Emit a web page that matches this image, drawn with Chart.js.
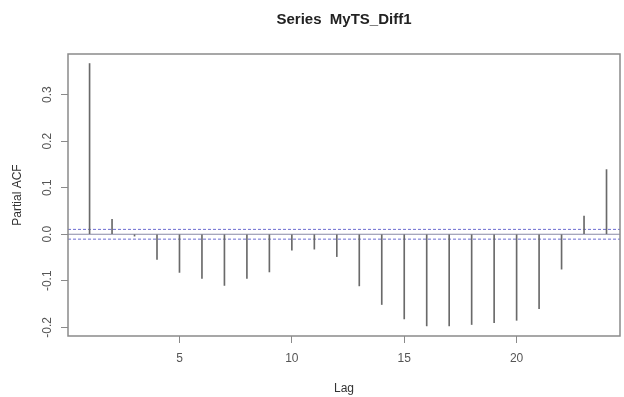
<!DOCTYPE html>
<html>
<head>
<meta charset="utf-8">
<script src="https://cdn.jsdelivr.net/npm/chart.js@4/dist/chart.umd.min.js"></script>
<style>
  html, body { margin: 0; padding: 0; background: #fff; }
  #c { display: block; }
</style>
</head>
<body>
<canvas id="c" width="624" height="397"></canvas>
<script>
// ---- data ----
const lags = [1, 2, 3, 4, 5, 6, 7, 8, 9, 10, 11, 12, 13, 14, 15, 16, 17, 18, 19, 20, 21, 22, 23, 24];
const pacfValues = [0.367, 0.032, -0.004, -0.054, -0.082, -0.095, -0.110, -0.095, -0.081, -0.034, -0.032, -0.048,
                    -0.111, -0.151, -0.182, -0.197, -0.197, -0.194, -0.190, -0.185, -0.160, -0.075, 0.039, 0.139];
const ciBound = 0.0105;
const xTickValues = [5, 10, 15, 20];
const yTickValues = [-0.2, -0.1, 0.0, 0.1, 0.2, 0.3];
const titleText = 'Series  MyTS_Diff1';
const xTitle = 'Lag';
const yTitle = 'Partial ACF';

// axis ranges
const xMin = 0.04, xMax = 24.6;
const yMin = -0.2187, yMax = 0.3875;

const spikeData = lags.map((l, i) => ({ x: l, y: pacfValues[i] }));
const ciUpper = [{ x: xMin, y: ciBound }, { x: xMax, y: ciBound }];
const ciLower = [{ x: xMin, y: -ciBound }, { x: xMax, y: -ciBound }];
const zeroLine = [{ x: xMin, y: 0 }, { x: xMax, y: 0 }];

const boxPlugin = {
  id: 'plotBox',
  afterDraw(chart) {
    const { ctx, chartArea: a } = chart;
    ctx.save();
    ctx.strokeStyle = '#8a8a8a';
    ctx.lineWidth = 1.5;
    ctx.strokeRect(a.left, a.top, a.right - a.left, a.bottom - a.top);
    ctx.restore();
  }
};

const fontFamily = '"Liberation Sans", Arial, sans-serif';

new Chart(document.getElementById('c'), {
  type: 'bar',
  data: {
    datasets: [
      { type: 'line', data: zeroLine, borderColor: '#8a8aa6', borderWidth: 1, pointRadius: 0, order: 3 },
      { type: 'line', data: ciUpper, borderColor: '#6b6bd0', borderWidth: 1, borderDash: [3, 2], pointRadius: 0, order: 2 },
      { type: 'line', data: ciLower, borderColor: '#6b6bd0', borderWidth: 1, borderDash: [3, 2], pointRadius: 0, order: 2 },
      { type: 'bar', data: spikeData, backgroundColor: '#6a6a6a', borderWidth: 0, barThickness: 1, order: 1 }
    ]
  },
  options: {
    responsive: false,
    animation: false,
    devicePixelRatio: 1,
    layout: { padding: { left: 0, right: 4, top: 0, bottom: 0 } },
    plugins: {
      legend: { display: false },
      tooltip: { enabled: false },
      title: {
        display: true,
        text: titleText,
        fullSize: false,
        color: '#222',
        font: { family: fontFamily, size: 15, weight: 'bold' },
        padding: { top: 11, bottom: 25 }
      }
    },
    scales: {
      x: {
        type: 'linear',
        min: xMin, max: xMax,
        offset: false,
        afterFit(scale) { scale.height = 61; },
        afterBuildTicks(scale) { scale.ticks = xTickValues.map(v => ({ value: v })); },
        grid: { display: true, drawOnChartArea: false, drawTicks: true, tickLength: 7, tickColor: '#8a8a8a', offset: false },
        border: { display: false },
        ticks: { color: '#555', font: { family: fontFamily, size: 12 }, padding: 8, maxRotation: 0, minRotation: 0,
                 callback: v => String(v) },
        title: { display: true, text: xTitle, color: '#333', font: { family: fontFamily, size: 12 }, padding: { top: 0, bottom: 1 } }
      },
      y: {
        type: 'linear',
        min: yMin, max: yMax,
        afterFit(scale) { scale.width = 68; },
        afterBuildTicks(scale) { scale.ticks = yTickValues.map(v => ({ value: v })); },
        grid: { display: true, drawOnChartArea: false, drawTicks: true, tickLength: 7, tickColor: '#8a8a8a' },
        border: { display: false },
        ticks: { color: '#555', font: { family: fontFamily, size: 12 }, padding: 3, minRotation: 90, maxRotation: 90,
                 crossAlign: 'center',
                 callback: v => (Math.abs(v) < 1e-9 ? '0.0' : Number(v).toFixed(1)) },
        title: { display: true, text: yTitle, color: '#333', font: { family: fontFamily, size: 12 }, padding: { top: 10, bottom: 0 } }
      }
    }
  },
  plugins: [boxPlugin]
});
</script>
</body>
</html>
